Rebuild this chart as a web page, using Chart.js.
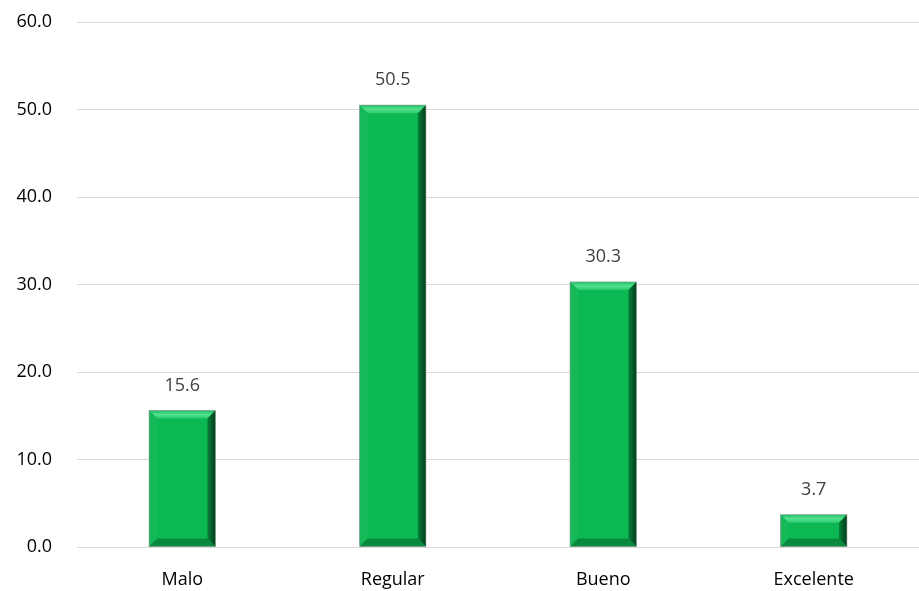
<!DOCTYPE html>
<html>
<head>
<meta charset="utf-8">
<script src="https://cdn.jsdelivr.net/npm/chart.js@4.4.0/dist/chart.umd.min.js"></script>
<style>
  html, body { margin: 0; padding: 0; background: #fff; }
  #wrap { width: 919px; height: 591px; }
</style>
</head>
<body>
<div id="wrap"><canvas id="barChart"></canvas></div>
<script>
// data
let categories = ['Malo', 'Regular', 'Bueno', 'Excelente'];
let percentArr = [15.6, 50.5, 30.3, 3.7];
let yTicks = [0, 10, 20, 30, 40, 50, 60];

// bevel look like the excel bars
const bevelPlugin = {
  id: 'bevel',
  afterDatasetsDraw(chart) {
    const ctx = chart.ctx;
    chart.getDatasetMeta(0).data.forEach(bar => {
      const l = bar.x - bar.width / 2, r = bar.x + bar.width / 2;
      const t = bar.y, b = bar.base;
      const d = Math.min(8, (b - t) / 2.5);
      const poly = (pts, col) => {
        ctx.beginPath();
        ctx.moveTo(pts[0][0], pts[0][1]);
        pts.slice(1).forEach(p => ctx.lineTo(p[0], p[1]));
        ctx.closePath();
        ctx.fillStyle = col;
        ctx.fill();
      };
      ctx.save();
      let gTop = ctx.createLinearGradient(0, t, 0, t + d);
      gTop.addColorStop(0, '#1fc062');
      gTop.addColorStop(0.5, '#52e08f');
      gTop.addColorStop(1, '#2ccb6e');
      poly([[l, t], [r, t], [r - d, t + d], [l + d, t + d]], gTop);
      poly([[l, t], [l + d, t + d], [l + d, b - d], [l, b]], '#16b958');
      let gR = ctx.createLinearGradient(r - d, 0, r, 0);
      gR.addColorStop(0, '#07803a');
      gR.addColorStop(1, '#023d1a');
      poly([[r, t], [r, b], [r - d, b - d], [r - d, t + d]], gR);
      poly([[l, b], [r, b], [r - d, b - d], [l + d, b - d]], '#08893e');
      ctx.strokeStyle = 'rgba(150,150,150,0.6)';
      ctx.lineWidth = 1;
      ctx.strokeRect(l, t, r - l, b - t);
      ctx.restore();
    });
  }
};

// value labels above bars
const labelPlugin = {
  id: 'valueLabels',
  afterDatasetsDraw(chart) {
    const ctx = chart.ctx;
    ctx.save();
    ctx.font = '18px "Open Sans", "Liberation Sans", sans-serif';
    ctx.fillStyle = '#404040';
    ctx.textAlign = 'center';
    ctx.textBaseline = 'middle';
    chart.getDatasetMeta(0).data.forEach((bar, i) => {
      ctx.fillText(percentArr[i].toFixed(1), bar.x, bar.y - 25);
    });
    ctx.restore();
  }
};

const barData = {
  labels: categories,
  datasets: [{
    data: percentArr,
    backgroundColor: '#0cb852',
    borderWidth: 0,
    barPercentage: 0.315,
    categoryPercentage: 1
  }]
};

const barConfig = {
  type: 'bar',
  data: barData,
  options: {
    responsive: true,
    maintainAspectRatio: false,
    animation: false,
    layout: { padding: { top: 22, right: 0, left: 0, bottom: 0 } },
    plugins: {
      legend: { display: false },
      tooltip: { enabled: false }
    },
    scales: {
      x: {
        grid: { display: false },
        border: { display: false },
        ticks: {
          color: '#000',
          padding: 14,
          font: { family: '"Open Sans", "Liberation Sans", sans-serif', size: 18 }
        },
        afterFit: s => { s.height = 44; }
      },
      y: {
        min: 0,
        max: 60,
        afterBuildTicks: s => { s.ticks = yTicks.map(v => ({ value: v })); },
        grid: { color: '#d9d9d9', lineWidth: 1, drawTicks: false },
        border: { display: false },
        ticks: {
          color: '#000',
          padding: 25,
          callback: v => v.toFixed(1),
          font: { family: '"Open Sans", "Liberation Sans", sans-serif', size: 18 }
        },
        afterFit: s => { s.width = 77; s.paddingTop = 0; s.paddingBottom = 0; }
      }
    }
  },
  plugins: [bevelPlugin, labelPlugin]
};

let barChart = new Chart(document.getElementById('barChart'), barConfig);
</script>
</body>
</html>
